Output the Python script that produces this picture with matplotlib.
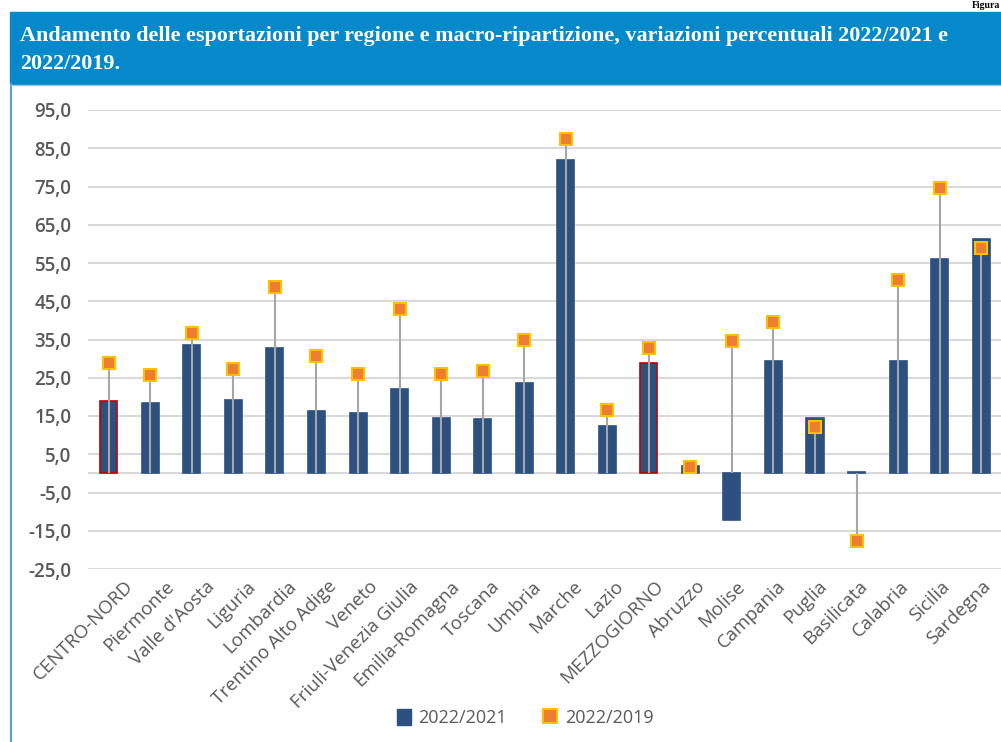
import numpy as np
import matplotlib.pyplot as plt
import matplotlib.transforms as mtransforms
from matplotlib.patches import Rectangle, Patch
from matplotlib.lines import Line2D

# Dati
regioni = ["CENTRO-NORD", "Piermonte", "Valle d'Aosta", "Liguria", "Lombardia",
           "Trentino Alto Adige", "Veneto", "Friuli-Venezia Giulia", "Emilia-Romagna",
           "Toscana", "Umbria", "Marche", "Lazio", "MEZZOGIORNO", "Abruzzo", "Molise",
           "Campania", "Puglia", "Basilicata", "Calabria", "Sicilia", "Sardegna"]
var_2022_2021 = [18.9, 18.4, 33.5, 19.1, 32.7, 16.2, 15.9, 22.0, 14.4, 14.1, 23.5,
                 81.8, 12.5, 28.8, 2.0, -12.1, 29.3, 14.6, 0.3, 29.5, 56.0, 61.4]
var_2022_2019 = [28.8, 25.8, 36.8, 27.4, 48.6, 30.8, 26.1, 43.1, 26.1, 26.7, 34.8,
                 87.3, 16.5, 32.9, 1.7, 34.5, 39.5, 12.1, -17.8, 50.5, 74.5, 58.8]
macro = ["CENTRO-NORD", "MEZZOGIORNO"]
y_ticks = np.arange(-25, 96, 10)

TITOLO = ("Andamento delle esportazioni per regione e macro-ripartizione, "
          "variazioni percentuali 2022/2021 e\n2022/2019.")

BLU_BAR = "#2C5080"
ARANCIO = "#ED7D31"
GIALLO = "#FFC000"
GRIGIO_TXT = "#595959"
BANNER = "#0689CB"

fig = plt.figure(figsize=(10.01, 7.42), dpi=100)

# banner del titolo
fig.patches.append(Rectangle((10 / 1001, 1 - 84 / 742), 1, 72 / 742,
                             transform=fig.transFigure, color=BANNER, zorder=0))
# bordo sinistro del riquadro
fig.add_artist(Line2D([11 / 1001, 11 / 1001], [0, 1 - 84 / 742],
                      transform=fig.transFigure, color="#4BA3D9", lw=1.5))
fig.add_artist(Line2D([11 / 1001, 1], [1 - 85 / 742, 1 - 85 / 742],
                      transform=fig.transFigure, color="#9CCBEA", lw=1.0))
fig.text(20 / 1001, 1 - 50 / 742, TITOLO, color="white", fontsize=15.9,
         fontweight="bold", family="Liberation Serif", va="center", ha="left",
         linespacing=1.52)
fig.text(0.999, 0.999, "Figura", color="black", fontsize=7, fontweight="bold",
         family="Liberation Serif", va="top", ha="right")

ax = fig.add_axes([88 / 1001, 1 - 569 / 742, (1004 - 88) / 1001, (569 - 110) / 742])
x = np.arange(len(regioni))

edge = ["#C00000" if r in macro else BLU_BAR for r in regioni]
ax.bar(x, var_2022_2021, width=0.41, color=BLU_BAR, edgecolor=edge,
       linewidth=1.2, zorder=2)
ax.vlines(x, 0, var_2022_2019, color="#A6A6A6", lw=1.5, zorder=3)
ax.plot(x, var_2022_2019, ls="none", marker="s", markersize=8.5,
        markerfacecolor=ARANCIO, markeredgecolor=GIALLO, markeredgewidth=1.5,
        zorder=4)

ax.set_ylim(-25, 95)
ax.set_xlim(-0.5, len(regioni) - 0.45)
ax.set_yticks(y_ticks)
ax.set_yticklabels([f"{v:.1f}".replace(".", ",") for v in y_ticks],
                   fontsize=13.5, color=GRIGIO_TXT, fontweight="semibold",
                   family="Open Sans")
ax.yaxis.grid(True, color="#D9D9D9", lw=1.5)
ax.axhline(0, color="#D9D9D9", lw=1.5, zorder=1)
ax.set_axisbelow(True)
ax.tick_params(axis="y", length=0, pad=12)
ax.tick_params(axis="x", length=0, pad=6)
ax.set_xticks(x)
ax.set_xticklabels(regioni, rotation=45, ha="right", va="top",
                   rotation_mode="anchor", fontsize=13.5, color=GRIGIO_TXT,
                   family="Open Sans")
# etichette leggermente spostate a destra, come in Excel
for i, lab in enumerate(ax.get_xticklabels()):
    dx = (15 - 0.72 * i) / 100
    lab.set_transform(lab.get_transform() +
                      mtransforms.ScaledTranslation(dx, 0, fig.dpi_scale_trans))
for s in ax.spines.values():
    s.set_visible(False)

handles = [Patch(facecolor=BLU_BAR, edgecolor=BLU_BAR),
           Line2D([], [], ls="none", marker="s", markersize=10,
                  markerfacecolor=ARANCIO, markeredgecolor=GIALLO,
                  markeredgewidth=1.5)]
fig.legend(handles, ["2022/2021", "2022/2019"], loc="center",
           bbox_to_anchor=(525 / 1001, 1 - 718 / 742), ncol=2, frameon=False,
           prop={"family": "Open Sans", "size": 13}, labelcolor=GRIGIO_TXT,
           handlelength=0.8, handleheight=1.0, handletextpad=0.4,
           columnspacing=2.0)

fig.savefig("out.png", dpi=100)
